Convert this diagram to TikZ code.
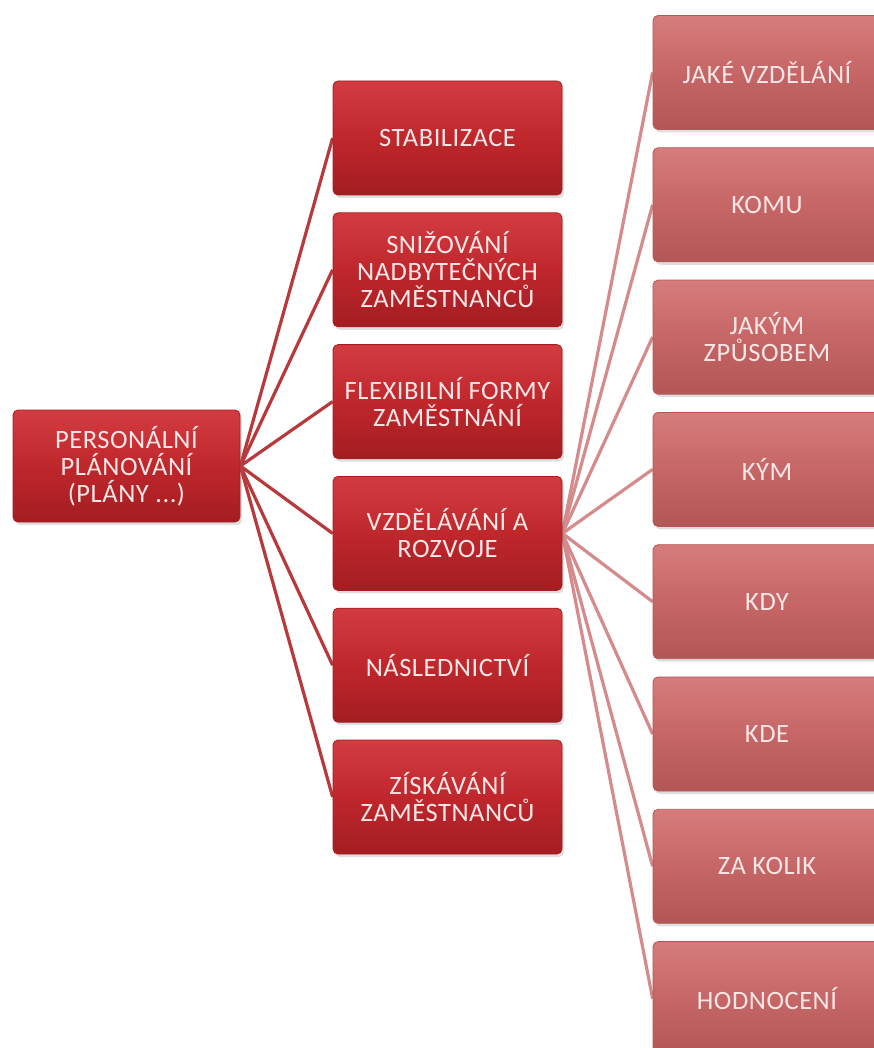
\documentclass[tikz,border=0pt]{standalone}
\usepackage{fontspec}
\setmainfont{Carlito}
\newfontfamily\boxfont[LetterSpace=2]{Carlito}
\usepackage{tikz}
\usetikzlibrary{positioning,shadows,backgrounds}
\definecolor{DarkRed}{HTML}{BF272C}
\definecolor{DarkRedTop}{HTML}{D23C40}
\definecolor{DarkRedBot}{HTML}{A31D22}
\definecolor{RoseRed}{HTML}{C66666}
\definecolor{RoseTop}{HTML}{D67C7C}
\definecolor{RoseBot}{HTML}{B35656}
\definecolor{LinkDark}{HTML}{B8393C}
\definecolor{LinkRose}{HTML}{D58B8B}
\definecolor{TextPale}{HTML}{FBE6E6}
\tikzset{
  BX/.style={rectangle,rounded corners=5pt,
             minimum width=229pt,minimum height=114pt,
             text centered,align=center,line width=0.8pt,
             font=\boxfont\fontsize{26.5}{27}\selectfont,text=TextPale,
             drop shadow={opacity=0.25,shadow xshift=2pt,shadow yshift=-3pt}},
  nD/.style={BX,top color=DarkRedTop,bottom color=DarkRedBot,middle color=DarkRed,draw=DarkRedBot},
  nP/.style={BX,top color=RoseTop,bottom color=RoseBot,middle color=RoseRed,draw=RoseBot,minimum width=228pt},
  lD/.style={draw=LinkDark,line width=3.2pt},
  lP/.style={draw=LinkRose,line width=3.2pt}
}
\begin{document}
\begin{tikzpicture}[x=1pt,y=1pt,node distance=17pt]
  \useasboundingbox (0,0) rectangle (873,-1048);

  \node[nD,minimum width=227pt,minimum height=112pt] (plan) at (126.5,-466) {PERSONÁLNÍ\\PLÁNOVÁNÍ\\(PLÁNY ...)};

  % middle column
  \node[nD] (stab) at (447.5,-138) {STABILIZACE};
  \node[nD,below=of stab] (sniz) {SNIŽOVÁNÍ\\NADBYTEČNÝCH\\ZAMĚSTNANCŮ};
  \node[nD,below=of sniz] (flex) {FLEXIBILNÍ FORMY\\ZAMĚSTNÁNÍ};
  \node[nD,below=of flex] (vzde) {VZDĚLÁVÁNÍ A\\ROZVOJE};
  \node[nD,below=of vzde] (nasl) {NÁSLEDNICTVÍ};
  \node[nD,below=of nasl] (zisk) {ZÍSKÁVÁNÍ\\ZAMĚSTNANCŮ};

  % right column
  \node[nP] (jake) at (767,-72.5) {JAKÉ VZDĚLÁNÍ};
  \node[nP,below=17.5pt of jake] (komu) {KOMU};
  \node[nP,below=17.5pt of komu] (jakym) {JAKÝM\\ZPŮSOBEM};
  \node[nP,below=17.5pt of jakym] (kym) {KÝM};
  \node[nP,below=17.5pt of kym] (kdy) {KDY};
  \node[nP,below=17.5pt of kdy] (kde) {KDE};
  \node[nP,below=17.5pt of kde] (zakol) {ZA KOLIK};
  \node[nP,below=17.5pt of zakol] (hodn) {HODNOCENÍ};

  \begin{scope}[on background layer]
    \fill[white] (0,0) rectangle (873,-1048);
    \draw[lD](plan.east)--(stab.west);
    \draw[lD](plan.east)--(sniz.west);
    \draw[lD](plan.east)--(flex.west);
    \draw[lD](plan.east)--(vzde.west);
    \draw[lD](plan.east)--(nasl.west);
    \draw[lD](plan.east)--(zisk.west);

    \draw[lP](vzde.east)--(jake.west);
    \draw[lP](vzde.east)--(komu.west);
    \draw[lP](vzde.east)--(jakym.west);
    \draw[lP](vzde.east)--(kym.west);
    \draw[lP](vzde.east)--(kdy.west);
    \draw[lP](vzde.east)--(kde.west);
    \draw[lP](vzde.east)--(zakol.west);
    \draw[lP](vzde.east)--(hodn.west);
  \end{scope}
\end{tikzpicture}
\end{document}
